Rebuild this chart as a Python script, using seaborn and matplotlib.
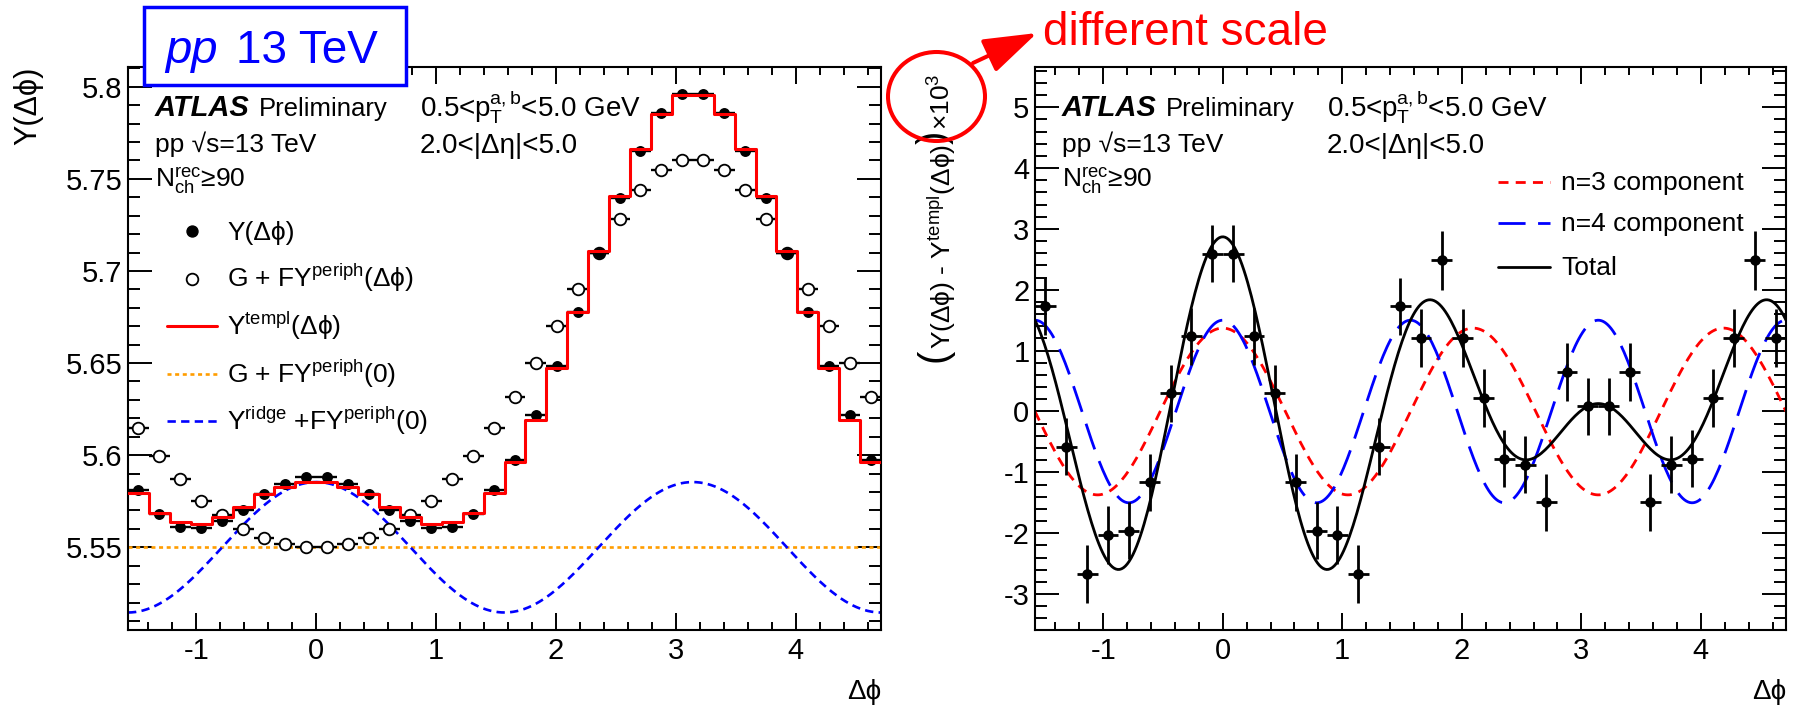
import numpy as np
import pandas as pd
import matplotlib
matplotlib.use("Agg")
import matplotlib.pyplot as plt
import seaborn as sns
from matplotlib.lines import Line2D
from matplotlib.patches import Rectangle, Ellipse, FancyArrowPatch
from matplotlib.ticker import MultipleLocator, FuncFormatter

# ---------------------------------------------------------------- data
# 36 bins in delta-phi over [-pi/2, 3pi/2]
n_bins = 36
edges = np.linspace(-0.5 * np.pi, 1.5 * np.pi, n_bins + 1)
centers = 0.5 * (edges[:-1] + edges[1:])
half_width = 0.5 * np.diff(edges)

# measured correlation Y(dphi)
y_data = [5.5810, 5.5682, 5.5612, 5.5606, 5.5645, 5.5705, 5.5790, 5.5841, 5.5882,
          5.5882, 5.5841, 5.5790, 5.5705, 5.5645, 5.5606, 5.5612, 5.5682, 5.5810,
          5.5975, 5.6217, 5.6484, 5.6777, 5.7100, 5.7398, 5.7649, 5.7860, 5.7958,
          5.7958, 5.7860, 5.7649, 5.7398, 5.7100, 5.6777, 5.6484, 5.6217, 5.5975]

# scaled peripheral reference G + F Y_periph(dphi)
y_periph = [5.6145, 5.5996, 5.5868, 5.5751, 5.5675, 5.5599, 5.5549, 5.5518, 5.5500,
            5.5500, 5.5518, 5.5549, 5.5599, 5.5675, 5.5751, 5.5868, 5.5996, 5.6145,
            5.6316, 5.6500, 5.6701, 5.6904, 5.7095, 5.7281, 5.7437, 5.7546, 5.7601,
            5.7601, 5.7546, 5.7437, 5.7281, 5.7095, 5.6904, 5.6701, 5.6500, 5.6316]

# template fit Y_templ(dphi)
y_templ = [5.57927, 5.56878, 5.56387, 5.56263, 5.56646, 5.57166, 5.57870, 5.58287, 5.58561,
           5.58561, 5.58287, 5.57870, 5.57166, 5.56646, 5.56263, 5.56387, 5.56878, 5.57927,
           5.59629, 5.61922, 5.64719, 5.67748, 5.71078, 5.74068, 5.76639, 5.78535, 5.79572,
           5.79572, 5.78535, 5.76639, 5.74068, 5.71078, 5.67748, 5.64719, 5.61922, 5.59629]

# residual (Y - Y_templ) x 10^3 and its uncertainty
resid = [1.727, -0.576, -2.670, -2.028, -1.957, -1.162, 0.302, 1.234, 2.594,
         2.594, 1.234, 0.302, -1.162, -1.957, -2.028, -2.670, -0.576, 1.727,
         1.207, 2.484, 1.207, 0.220, -0.778, -0.877, -1.490, 0.648, 0.083,
         0.083, 0.648, -1.490, -0.877, -0.778, 0.220, 1.207, 2.484, 1.207]
resid_err = [0.47, 0.47, 0.47, 0.47, 0.47, 0.47, 0.47, 0.47, 0.47,
             0.47, 0.47, 0.47, 0.47, 0.47, 0.47, 0.47, 0.47, 0.47,
             0.47, 0.48, 0.47, 0.47, 0.47, 0.47, 0.47, 0.47, 0.47,
             0.47, 0.47, 0.47, 0.47, 0.47, 0.47, 0.47, 0.48, 0.47]

# fit parameters
pedestal = 5.5500          # G + F Y_periph(0)
ridge_amp = 0.0354         # amplitude of the cos(2 dphi) ridge term
a3_amp = 1.37              # n=3 harmonic in the residual (x10^3)
a4_amp = 1.50              # n=4 harmonic in the residual (x10^3)

phi_fine = np.linspace(edges[0], edges[-1], 400)
ridge_curve = pedestal + ridge_amp * np.cos(2 * phi_fine)
n3_curve = a3_amp * np.cos(3 * phi_fine)
n4_curve = a4_amp * np.cos(4 * phi_fine)
total_curve = n3_curve + n4_curve

templ_df = pd.DataFrame({"dphi": centers, "templ": y_templ})

# ---------------------------------------------------------------- style
sns.set_theme(style="ticks")
plt.rcParams["font.family"] = ["Liberation Sans", "DejaVu Sans"]
plt.rcParams["mathtext.fontset"] = "custom"
plt.rcParams["mathtext.rm"] = "Liberation Sans"
plt.rcParams["mathtext.it"] = "Liberation Sans"
plt.rcParams["mathtext.bf"] = "Liberation Sans:bold"
plt.rcParams["mathtext.fallback"] = "stixsans"
plt.rcParams["lines.scale_dashes"] = False
plt.rcParams["axes.unicode_minus"] = False

RED = "#ff0000"
BLUE = "#0000ff"
ORANGE = "#ff9d00"

W, H = 1798, 708
fig = plt.figure(figsize=(W / 100, H / 100), dpi=100)
fig.patch.set_facecolor("white")


def fx(x):
    return x / W


def fy(y):
    return 1 - y / H


def ftext(x, y, s, **kw):
    kw.setdefault("va", "baseline")
    kw.setdefault("ha", "left")
    kw.setdefault("color", "black")
    return fig.text(fx(x), fy(y), s, **kw)


fmt = FuncFormatter(lambda v, p: f"{v:g}")


def style_axes(ax, ymaj, ymin, ylim):
    ax.set_xlim(edges[0], edges[-1])
    ax.set_ylim(*ylim)
    ax.xaxis.set_major_locator(MultipleLocator(1))
    ax.xaxis.set_minor_locator(MultipleLocator(0.2))
    ax.yaxis.set_major_locator(MultipleLocator(ymaj))
    ax.yaxis.set_minor_locator(MultipleLocator(ymin))
    ax.xaxis.set_major_formatter(fmt)
    ax.yaxis.set_major_formatter(fmt)
    ax.tick_params(which="both", direction="in", top=True, right=True,
                   width=1.4, color="black", labelcolor="black", labelsize=21)
    ax.tick_params(axis="x", which="major", length=12, pad=5)
    ax.tick_params(axis="x", which="minor", length=6)
    ax.tick_params(axis="y", which="major", length=17, pad=4)
    ax.tick_params(axis="y", which="minor", length=8.5)
    for s in ax.spines.values():
        s.set_linewidth(1.5)
        s.set_color("black")
        s.set_visible(True)
    ax.set_xlabel("")
    ax.set_ylabel("")
    ax.set_facecolor("white")
    ax.grid(False)


# ---------------------------------------------------------------- left panel
axL = fig.add_axes([fx(128), fy(630), (881 - 128) / W, (630 - 67) / H])

sns.lineplot(x=edges[[0, -1]], y=[pedestal, pedestal], color=ORANGE, linewidth=1.9,
             linestyle=(0, (2.9, 2.6)), errorbar=None, ax=axL, zorder=1)
sns.lineplot(x=phi_fine, y=ridge_curve, color=BLUE, linewidth=1.9,
             linestyle=(0, (6.0, 3.8)), errorbar=None, ax=axL, zorder=1)

axL.errorbar(centers, y_periph, xerr=half_width, fmt="none", ecolor="black",
             elinewidth=1.7, capsize=0, zorder=2)
sns.scatterplot(x=centers, y=y_periph, marker="o", s=70, color="white",
                edgecolor="black", linewidth=1.3, ax=axL, zorder=3, legend=False)

axL.errorbar(centers, y_data, xerr=half_width, fmt="none", ecolor="black",
             elinewidth=1.7, capsize=0, zorder=2)
sns.scatterplot(x=centers, y=y_data, marker="o", s=62, color="black",
                edgecolor="black", linewidth=0, ax=axL, zorder=3, legend=False)

sns.histplot(data=templ_df, x="dphi", weights="templ", bins=edges.tolist(),
             element="step", fill=False, color=RED, linewidth=2.2, ax=axL, zorder=4)

style_axes(axL, 0.05, 0.01, (5.5051, 5.8107))

# ---------------------------------------------------------------- right panel
axR = fig.add_axes([fx(1035), fy(630), (1786 - 1035) / W, (630 - 67) / H])

sns.lineplot(x=phi_fine, y=n3_curve, color=RED, linewidth=2.0,
             linestyle=(0, (7.2, 5.2)), errorbar=None, ax=axR, zorder=1)
sns.lineplot(x=phi_fine, y=n4_curve, color=BLUE, linewidth=2.0,
             linestyle=(0, (19.5, 9.0)), errorbar=None, ax=axR, zorder=1)
sns.lineplot(x=phi_fine, y=total_curve, color="black", linewidth=2.0,
             errorbar=None, ax=axR, zorder=2)

axR.errorbar(centers, resid, xerr=half_width, yerr=resid_err, fmt="none",
             ecolor="black", elinewidth=2.0, capsize=0, zorder=3)
sns.scatterplot(x=centers, y=resid, marker="o", s=58, color="black",
                edgecolor="black", linewidth=0, ax=axR, zorder=4, legend=False)

style_axes(axR, 1, 0.2, (-3.59, 5.66))

# ---------------------------------------------------------------- labels
ftext(28, 67, "Y(Δϕ)", rotation=90, ha="center", va="top", fontsize=22)
ftext(881, 692, "Δϕ", ha="right", va="center", fontsize=20)
ftext(1786, 692, "Δϕ", ha="right", va="center", fontsize=20)

# right y-axis title, built bottom-up from pieces so that the outer
# parentheses can be drawn larger than the rest
renderer = fig.canvas.get_renderer()
title_pieces = [("(", 29, 946),
                (r"Y(Δϕ) - Y$^{\rm templ}$(Δϕ)", 19, 951),
                (")", 29, 946),
                (r"×10$^{3}$", 19, 951)]
y_cursor = 362.0
for text, size, base_x in title_pieces:
    t = ftext(base_x, y_cursor, text, rotation=90, rotation_mode="anchor",
              ha="left", va="baseline", fontsize=size)
    bb = t.get_window_extent(renderer)
    y_cursor = H - bb.y1

# ATLAS labels and selection text, same layout in both panels
for off in (0, 907):
    ftext(155 + off, 116, "ATLAS", fontsize=21, fontweight="bold", style="italic")
    ftext(259 + off, 116, "Preliminary", fontsize=18.5)
    ftext(420 + off, 116, r"0.5<p$_{\rm T}^{\rm a,b}$<5.0 GeV", fontsize=20)
    ftext(155 + off, 152, "pp √s=13 TeV", fontsize=19)
    ftext(420 + off, 153, "2.0<|Δη|<5.0", fontsize=20)
    ftext(155 + off, 188, r"N$_{\rm ch}^{\rm rec}$≥90", fontsize=19)

# legend of the left panel
rows_left = [231, 278.5, 326, 373.5, 421]
fig.add_artist(Line2D([fx(192)], [fy(rows_left[0])], marker="o", markersize=7.9,
                      color="black", linestyle="none", transform=fig.transFigure))
fig.add_artist(Line2D([fx(192)], [fy(rows_left[1])], marker="o", markersize=8.4,
                      markerfacecolor="white", markeredgecolor="black",
                      markeredgewidth=1.3, linestyle="none", transform=fig.transFigure))
fig.add_artist(Line2D([fx(167), fx(217)], [fy(rows_left[2])] * 2, color=RED,
                      linewidth=2.2, transform=fig.transFigure))
fig.add_artist(Line2D([fx(167), fx(217)], [fy(rows_left[3])] * 2, color=ORANGE,
                      linewidth=1.9, linestyle=(0, (2.9, 2.6)), transform=fig.transFigure))
fig.add_artist(Line2D([fx(167), fx(217)], [fy(rows_left[4])] * 2, color=BLUE,
                      linewidth=1.9, linestyle=(0, (6.0, 3.8)), transform=fig.transFigure))
labels_left = ["Y(Δϕ)",
               r"G + FY$^{\rm periph}$(Δϕ)",
               r"Y$^{\rm templ}$(Δϕ)",
               r"G + FY$^{\rm periph}$(0)",
               r"Y$^{\rm ridge}$ +FY$^{\rm periph}$(0)"]
for yr, lab in zip(rows_left, labels_left):
    ftext(227, yr + 9, lab, fontsize=19)

# legend of the right panel
rows_right = [182, 223, 267]
styles_right = [(RED, (0, (7.2, 5.2))), (BLUE, (0, (19.5, 9.0))), ("black", "-")]
labels_right = ["n=3 component", "n=4 component", "Total"]
for yr, (col, ls), lab in zip(rows_right, styles_right, labels_right):
    fig.add_artist(Line2D([fx(1498), fx(1550)], [fy(yr)] * 2, color=col, linewidth=2.0,
                          linestyle=ls, transform=fig.transFigure))
    ftext(1561, yr + 8, lab, fontsize=19)

# "pp 13 TeV" tag box
fig.add_artist(Rectangle((fx(144), fy(85)), (406 - 144) / W, (85 - 7) / H,
                         transform=fig.transFigure, facecolor="white",
                         edgecolor=BLUE, linewidth=2.5, zorder=10))
ftext(165, 63, "pp", fontsize=34, style="italic", color=BLUE, zorder=11)
ftext(236, 63, "13 TeV", fontsize=33, color=BLUE, zorder=11)

# note pointing at the scale factor of the residual axis
fig.add_artist(Ellipse((936.5 / 100, (H - 96.5) / 100), 0.97, 0.89,
                       transform=fig.dpi_scale_trans, fill=False,
                       edgecolor=RED, linewidth=2.9, zorder=10))
fig.add_artist(FancyArrowPatch((973 / 100, (H - 63) / 100), (1037 / 100, (H - 33) / 100),
                               transform=fig.dpi_scale_trans,
                               arrowstyle="-|>,head_length=33,head_width=11",
                               mutation_scale=1, color=RED, linewidth=2.9,
                               shrinkA=0, shrinkB=0, zorder=10))
ftext(1043, 45, "different scale", fontsize=33, color=RED)

fig.savefig("out.png", dpi=100, facecolor="white")
